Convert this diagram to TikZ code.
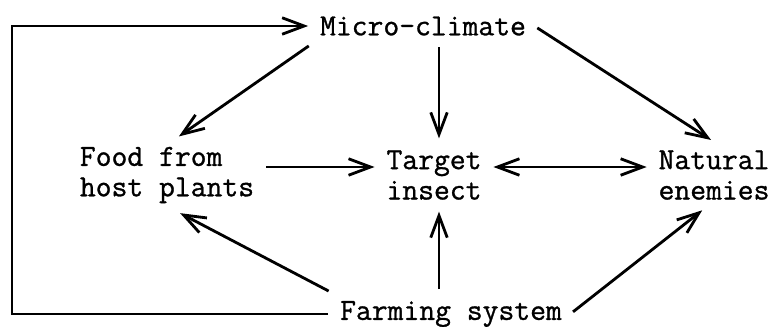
\documentclass[tikz,border=0pt]{standalone}
\usepackage{fontspec}
\usepackage{tikz}
\usetikzlibrary{arrows.meta}

\newfontfamily\typer{Latin Modern Mono}[FakeBold=1]

\begin{document}
\begin{tikzpicture}
  [x=0.02cm,y=-0.02cm,line width=1.6pt,
   every node/.style={font=\typer\fontsize{17.5}{17.3}\selectfont,inner sep=4pt,align=left}]

  \tikzstyle{link} = [->, >={Straight Barb[length=4.4mm,width=3.3mm]}, shorten > = 2pt, shorten < = 2pt]

  \useasboundingbox (0,0) rectangle (774,326);

  \node (micro)   at (423,26)  {Micro-climate};
  \node (food)    at (167,175) {Food from\\host plants};
  \node (target)  at (434,175) {Target\\insect};
  \node (natural) at (714,175) {Natural\\enemies};
  \node (farming) at (451,314) {Farming system};
  \coordinate (side) at (12,0);

  % feedback round the left side
  \draw[link] (farming.west) -- (farming.west -| side)
        -- (micro.west -| side) -- (micro.west);

  \path[link]
        (micro.south west)        edge ([xshift=0.18cm]food.north)
        ([xshift=0.1cm]micro.south -| target) edge ([xshift=0.1cm]target.north)
        (micro.east)              edge (natural.north)
        ([yshift=0.16cm]food.east) edge ([yshift=0.16cm]target.west)
        (farming.north west)      edge ([xshift=0.2cm]food.south)
        ([xshift=0.1cm]farming.north -| target) edge ([xshift=0.1cm]target.south)
        (farming.east)            edge ([xshift=-0.18cm]natural.south);

  \path[link,<->]
        ([yshift=0.16cm]target.east) edge ([yshift=0.16cm]natural.west);
\end{tikzpicture}
\end{document}
